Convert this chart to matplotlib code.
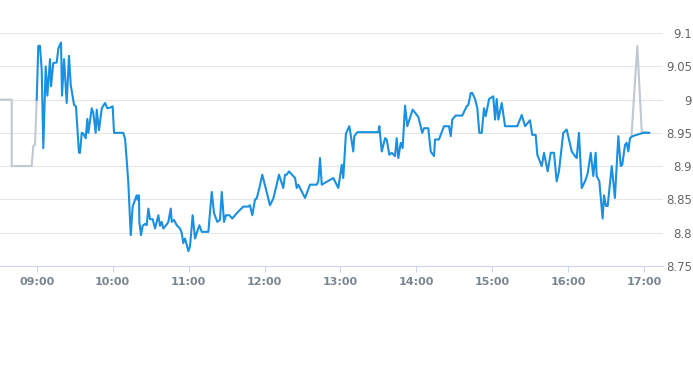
import pandas as pd
import matplotlib
matplotlib.use("Agg")
import matplotlib.pyplot as plt
import matplotlib.dates as mdates

# ---------------------------------------------------------
# price data (minutes after 09:00, price)
# ---------------------------------------------------------

pre_minutes = [-35, -19.75, -19.75, -3.95, -2.7, -1.34, 0.0]
pre_price = [9.0, 9.0, 8.9, 8.9, 8.93, 8.932, 9.0]

post_minutes = [469.9, 474.5, 478.0, 483.9]
post_price = [8.945, 9.081, 8.952, 8.95]

session_minutes = [
    0.0, 1.26, 2.6, 3.95, 5.2, 7.1, 8.4, 10.5, 11.3, 13.1,
    15.8, 17.1, 19.2, 20.0, 21.6, 23.7, 25.5, 26.9, 29.5, 31.0,
    33.4, 34.2, 35.6, 36.8, 38.7, 40.0, 40.8, 43.5, 44.7, 46.6,
    47.4, 49.2, 51.4, 54.0, 55.8, 57.9, 60.0, 61.1, 68.4, 69.8,
    71.1, 72.4, 74.3, 75.8, 77.7, 79.0, 79.8, 80.8, 81.1, 82.4,
    83.7, 85.6, 86.9, 88.2, 89.5, 91.6, 93.5, 96.1, 97.4, 98.8,
    100.0, 102.7, 104.0, 105.9, 106.7, 108.5, 110.6, 113.2, 114.6, 115.8,
    117.2, 119.8, 121.1, 123.2, 125.1, 126.4, 128.5, 130.4, 135.6, 138.3,
    140.1, 142.7, 144.8, 146.2, 148.0, 149.5, 152.2, 154.5, 158.0, 160.6,
    163.2, 167.2, 168.5, 170.3, 172.5, 173.8, 175.9, 178.2, 180.9, 184.3,
    186.9, 189.6, 191.4, 194.8, 196.2, 197.5, 199.3, 204.1, 205.4, 206.7,
    208.0, 212.0, 215.9, 221.2, 222.5, 223.8, 225.2, 234.3, 238.3, 241.0,
    242.2, 244.3, 247.0, 250.1, 250.9, 253.3, 269.9, 270.7, 272.6, 275.2,
    276.5, 278.6, 280.5, 283.1, 284.4, 285.7, 287.6, 289.1, 291.0, 292.8,
    297.0, 301.5, 304.6, 306.0, 309.4, 311.3, 313.9, 314.7, 317.8, 321.8,
    325.7, 327.1, 328.3, 331.0, 336.2, 339.7, 341.0, 342.9, 344.1, 346.3,
    348.1, 349.7, 351.6, 353.4, 354.7, 357.4, 360.7, 362.1, 363.4, 364.7,
    367.4, 370.0, 379.7, 383.2, 385.8, 389.7, 391.5, 394.2, 395.5, 399.0,
    400.8, 403.7, 406.1, 408.7, 410.8, 412.6, 416.0, 418.7, 422.7, 425.3,
    426.6, 428.4, 430.6, 433.2, 435.3, 437.7, 439.7, 441.6, 442.4, 444.5,
    447.1, 448.2, 449.7, 451.1, 454.3, 456.8, 459.5, 461.4, 462.6, 464.8,
    466.1, 467.4, 468.7, 470.8, 474.0, 479.2, 483.9,
]
session_price = [
    9.0, 9.081, 9.081, 9.045, 8.927, 9.05, 9.006, 9.061, 9.02, 9.055,
    9.056, 9.077, 9.086, 9.006, 9.061, 8.995, 9.066, 9.022, 8.992, 8.99,
    8.92, 8.92, 8.95, 8.949, 8.942, 8.971, 8.95, 8.987, 8.98, 8.95,
    8.985, 8.954, 8.987, 8.995, 8.987, 8.988, 8.99, 8.95, 8.95, 8.941,
    8.909, 8.874, 8.796, 8.839, 8.849, 8.856, 8.849, 8.856, 8.816, 8.796,
    8.81, 8.813, 8.811, 8.836, 8.82, 8.82, 8.806, 8.826, 8.81, 8.816,
    8.806, 8.812, 8.816, 8.836, 8.816, 8.819, 8.811, 8.806, 8.799, 8.784,
    8.791, 8.772, 8.779, 8.826, 8.791, 8.799, 8.811, 8.801, 8.801, 8.861,
    8.829, 8.816, 8.819, 8.861, 8.816, 8.826, 8.826, 8.821, 8.829, 8.834,
    8.839, 8.839, 8.841, 8.826, 8.85, 8.851, 8.867, 8.887, 8.867, 8.841,
    8.851, 8.872, 8.887, 8.867, 8.887, 8.887, 8.892, 8.882, 8.867, 8.872,
    8.867, 8.852, 8.872, 8.872, 8.877, 8.912, 8.872, 8.882, 8.867, 8.902,
    8.882, 8.949, 8.96, 8.922, 8.945, 8.951, 8.951, 8.96, 8.922, 8.942,
    8.94, 8.917, 8.92, 8.915, 8.942, 8.912, 8.935, 8.927, 8.991, 8.96,
    8.985, 8.974, 8.95, 8.957, 8.957, 8.922, 8.915, 8.94, 8.94, 8.96,
    8.96, 8.945, 8.97, 8.976, 8.976, 8.99, 8.992, 9.01, 9.01, 9.001,
    8.987, 8.95, 8.95, 8.987, 8.975, 9.001, 9.005, 8.97, 9.001, 8.97,
    8.995, 8.96, 8.96, 8.977, 8.96, 8.969, 8.947, 8.947, 8.917, 8.9,
    8.92, 8.892, 8.92, 8.92, 8.877, 8.892, 8.95, 8.955, 8.922, 8.915,
    8.912, 8.95, 8.867, 8.877, 8.889, 8.92, 8.885, 8.92, 8.885, 8.877,
    8.821, 8.856, 8.84, 8.84, 8.9, 8.852, 8.945, 8.9, 8.902, 8.932,
    8.935, 8.922, 8.942, 8.945, 8.947, 8.95, 8.95,
]

y_ticks = [8.75, 8.8, 8.85, 8.9, 8.95, 9.0, 9.05, 9.1]

# ---------------------------------------------------------
# convert minutes to timestamps
# ---------------------------------------------------------

open_time = pd.Timestamp("2024-01-02 09:00")


def to_time(minutes):
    return open_time + pd.to_timedelta(minutes, unit="m")


# ---------------------------------------------------------
# plot
# ---------------------------------------------------------

fig = plt.figure(figsize=(6.93, 3.65), dpi=100)
ax = fig.add_axes([0.0, 0.272, 663 / 693, 0.637])

grey = "#c0c8d2"
blue = "#1a90e0"

ax.plot(to_time(pre_minutes), pre_price, color=grey, lw=1.5, zorder=2)
ax.plot(to_time(post_minutes), post_price, color=grey, lw=1.5, zorder=2)
ax.plot(to_time(session_minutes), session_price, color=blue, lw=1.5, zorder=3)

ax.set_xlim(to_time(-29.0), to_time(494.8))
ax.set_ylim(8.75, 9.1)

ax.set_yticks(y_ticks)
ax.set_yticklabels(["%g" % v for v in y_ticks])
ax.yaxis.tick_right()
ax.tick_params(axis="y", length=0, pad=21, labelsize=8.5, labelcolor="#666666")
for lbl in ax.get_yticklabels():
    lbl.set_horizontalalignment("right")

ax.xaxis.set_major_locator(mdates.HourLocator())
ax.xaxis.set_major_formatter(mdates.DateFormatter("%H:%M"))
ax.tick_params(axis="x", length=4, width=0.8, color="#ccd6eb",
               labelsize=8, labelcolor="#7a8590", pad=4)
for lbl in ax.get_xticklabels():
    lbl.set_fontweight("bold")

ax.grid(axis="y", color="#e6e6e6", lw=0.8)
ax.set_axisbelow(True)

for side in ["top", "left", "right"]:
    ax.spines[side].set_visible(False)
ax.spines["bottom"].set_color("#ccd6eb")
ax.spines["bottom"].set_linewidth(0.8)
ax.spines["bottom"].set_zorder(1)

plt.savefig("out.png", dpi=100)
